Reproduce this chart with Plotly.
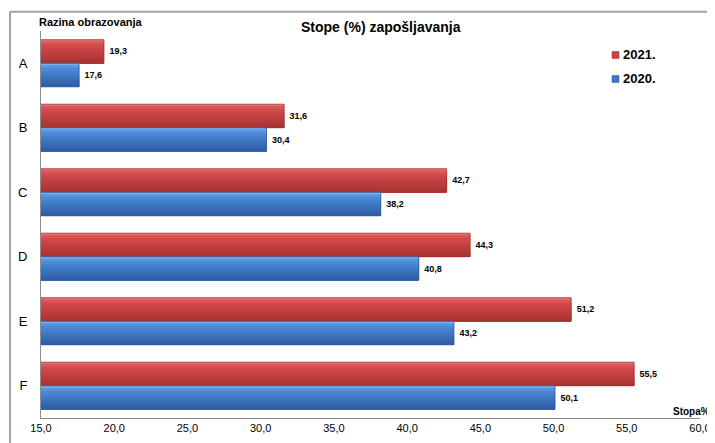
import plotly.graph_objects as go

categories = ["A", "B", "C", "D", "E", "F"]
values_2021 = [19.3, 31.6, 42.7, 44.3, 51.2, 55.5]
values_2020 = [17.6, 30.4, 38.2, 40.8, 43.2, 50.1]
tick_vals = [15, 20, 25, 30, 35, 40, 45, 50, 55, 60]
series_names = ["2021.", "2020."]
series_values = [values_2021, values_2020]

# styling: overlapping shaded layers (top -> bottom) imitating the gradient fill
series_bands = [
    ["#EA7373", "#DA5555", "#D14B4B", "#CA4545", "#C34040", "#BC3C3C", "#B43838", "#AA3333"],
    ["#7AB0EC", "#5894DE", "#4C88D4", "#4480CC", "#3E78C4", "#3A70BA", "#3568B0", "#3060A4"],
]
band_starts = [0.0, 0.08, 0.2, 0.33, 0.46, 0.59, 0.72, 0.86]
legend_colors = ["#C84242", "#3E78C4"]
series_lines = ["#9E2E2E", "#2C5A9A"]
BAR_W = 0.365
series_start = [-BAR_W, 0.0]  # axis is reversed, so the negative offset is on top

FONT = "Liberation Sans, Arial, sans-serif"

fig = go.Figure()
for name, vals, bands, lcol, start in zip(series_names, series_values, series_bands,
                                          series_lines, series_start):
    for col, f0 in zip(bands, band_starts):
        fig.add_trace(go.Bar(
            name=name, y=categories, x=vals, orientation="h", showlegend=False,
            offset=start + f0 * BAR_W, width=(1.0 - f0) * BAR_W,
            marker=dict(color=col, line=dict(width=0)), hoverinfo="skip",
        ))
    fig.add_trace(go.Bar(
        name=name, y=categories, x=vals, orientation="h", showlegend=False,
        offset=start, width=BAR_W,
        marker=dict(color="rgba(0,0,0,0)", line=dict(color=lcol, width=0.8)),
        texttemplate="\u00a0%{x:.1f}", textposition="outside",
        textfont=dict(family=FONT, size=9, color="#000000", weight="bold"),
        cliponaxis=False,
    ))

# manual legend (small squares right next to the labels, as in the reference)
legend_y = [0.938, 0.876]
shapes = [
    dict(type="line", xref="paper", yref="paper", x0=-0.047, x1=-0.047,
         y0=-0.2, y1=1.05, line=dict(color="#A3A3A3", width=2), layer="above"),
    dict(type="line", xref="paper", yref="paper", x0=-0.047, x1=1.2,
         y0=1.05, y1=1.05, line=dict(color="#A3A3A3", width=2), layer="above"),
]
annotations = [
    dict(text="Stope (%) zapošljavanja", xref="paper", yref="paper",
         x=0.516, y=1.0103, xanchor="center", yanchor="middle", showarrow=False,
         font=dict(family=FONT, size=14, color="#000000", weight="bold")),
    dict(text="Razina obrazovanja", xref="paper", yref="paper",
         x=-0.006, y=1.023, xanchor="left", yanchor="middle", showarrow=False,
         font=dict(family=FONT, size=11, color="#000000", weight="bold")),
    dict(text="Stopa%", xref="paper", yref="paper",
         x=0.956, y=0.018, xanchor="left", yanchor="middle", showarrow=False,
         font=dict(family=FONT, size=10, color="#000000", weight="bold")),
]
for name, col, lcol, ly in zip(series_names, legend_colors, series_lines, legend_y):
    shapes.append(dict(type="rect", xref="paper", yref="paper",
                       x0=0.8665, x1=0.8771, y0=ly - 0.009, y1=ly + 0.009,
                       fillcolor=col, line=dict(color=lcol, width=0.5), layer="above"))
    annotations.append(dict(text=name, xref="paper", yref="paper",
                            x=0.8805, y=ly, xanchor="left", yanchor="middle", showarrow=False,
                            font=dict(family=FONT, size=13, color="#000000", weight="bold")))

# the page body has an 8px margin, so the figure is 8px smaller in each direction
fig.update_layout(
    width=707, height=435,
    margin=dict(l=33, r=15, t=23, b=25),
    paper_bgcolor="white", plot_bgcolor="white",
    barmode="overlay",
    separators=", ",
    font=dict(family=FONT, size=11, color="#000000"),
    showlegend=False,
    xaxis=dict(
        range=[15, 60], tickvals=tick_vals, tickformat=".1f",
        showgrid=False, zeroline=False, automargin=False,
        showline=True, linecolor="#8C8C8C", linewidth=1,
        ticks="", tickfont=dict(family=FONT, size=11, color="#000000"),
    ),
    yaxis=dict(
        autorange="reversed", showgrid=False, zeroline=False, automargin=False,
        showline=True, linecolor="#8C8C8C", linewidth=1,
        ticks="", ticklabelstandoff=10,
        tickfont=dict(family=FONT, size=13, color="#000000"),
    ),
    annotations=annotations,
    shapes=shapes,
)

fig.write_html("out.html")
